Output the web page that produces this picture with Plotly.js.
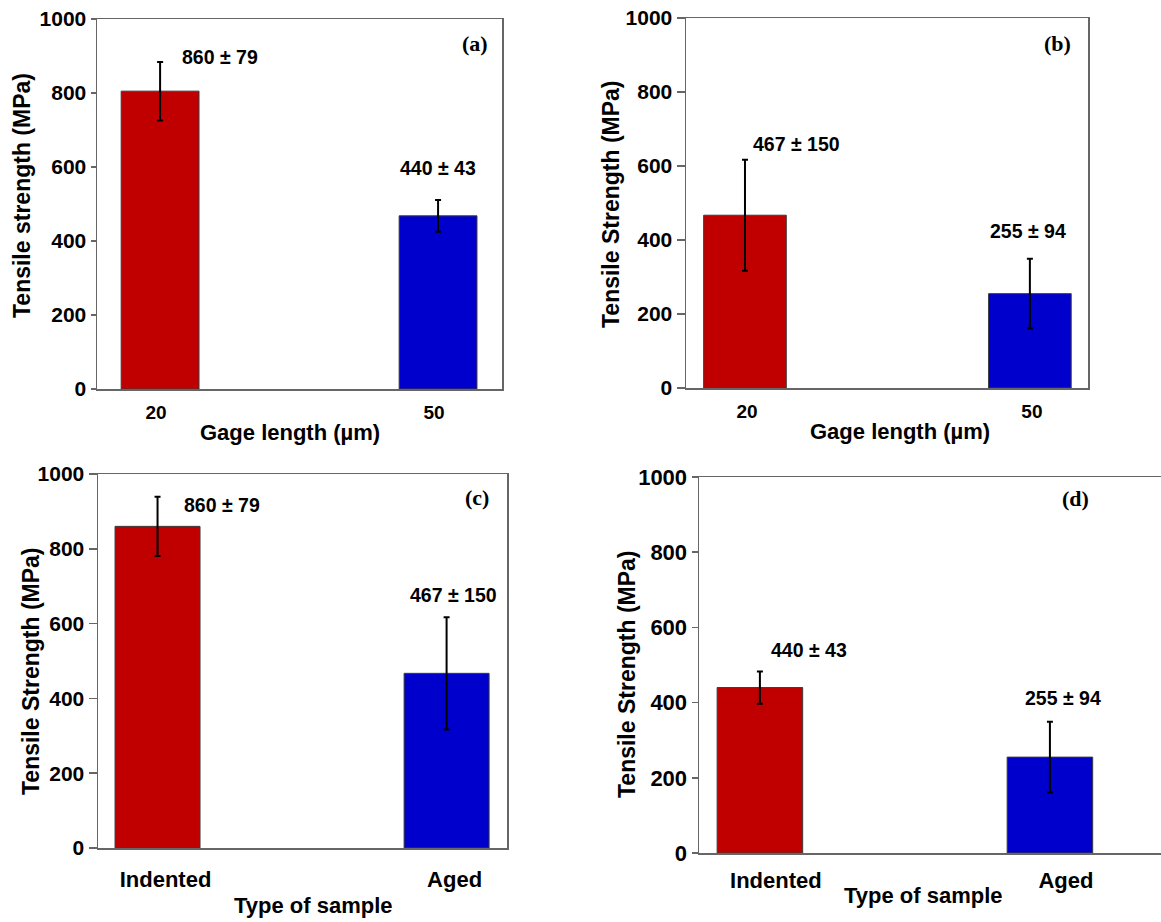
<!DOCTYPE html>
<html>
<head>
<meta charset="utf-8">
<script src="https://cdn.plot.ly/plotly-3.0.1.min.js"></script>
<style>html,body{margin:0;padding:0;background:#fff;}#chart{width:1161px;height:922px;}</style>
</head>
<body>
<div id="chart"></div>
<script>
// ---- data ----
const gageCategories = ['20', '50'];
const sampleCategories = ['Indented', 'Aged'];

const panelA_values = [805, 468];
const panelA_errors = [79, 43];
const panelA_labels = ['860 ± 79', '440 ± 43'];

const panelB_values = [467, 255];
const panelB_errors = [150, 94];
const panelB_labels = ['467 ± 150', '255 ± 94'];

const panelC_values = [860, 467];
const panelC_errors = [79, 150];
const panelC_labels = ['860 ± 79', '467 ± 150'];

const panelD_values = [440, 255];
const panelD_errors = [43, 94];
const panelD_labels = ['440 ± 43', '255 ± 94'];

const panelLetters = ['(a)', '(b)', '(c)', '(d)'];
const yTitles = ['Tensile strength (MPa)', 'Tensile Strength (MPa)', 'Tensile Strength (MPa)', 'Tensile Strength (MPa)'];
const xTitles = ['Gage length (µm)', 'Gage length (µm)', 'Type of sample', 'Type of sample'];
const yTickVals = [0, 200, 400, 600, 800, 1000];

// ---- styling ----
const barColors = ['#C00000', '#0000CC'];
const SANS = 'Liberation Sans, Arial, sans-serif';
const SERIF = 'Liberation Serif, Times New Roman, serif';

const panels = [
  {cats: gageCategories, vals: panelA_values, errs: panelA_errors, labels: panelA_labels,
   xd: [97/1161, 502/1161], yd: [1-389/922, 1-19/922], xr: [-0.227, 1.230], bw: 0.28,
   shift: -4, tickSize: 19, standoff: 6, yTickSize: 21,
   lblShift: [[60, 5], [0, 32]], letterPos: [0.933, 0.935],
   xt: [290, 432], yt: [22, 196], mirrorY: true, ticklen: 5},
  {cats: gageCategories, vals: panelB_values, errs: panelB_errors, labels: panelB_labels,
   xd: [686/1161, 1088/1161], yd: [1-388/922, 1-18/922], xr: [-0.207, 1.204], bw: 0.29,
   shift: 2, tickSize: 19, standoff: 6, yTickSize: 21,
   lblShift: [[52, 16], [-2, 28]], letterPos: [0.925, 0.932],
   xt: [900, 431], yt: [611, 204], mirrorY: true, ticklen: 8},
  {cats: sampleCategories, vals: panelC_values, errs: panelC_errors, labels: panelC_labels,
   xd: [98/1161, 507/1161], yd: [1-848/922, 1-474/922], xr: [-0.206, 1.209], bw: 0.294,
   shift: 8, tickSize: 22, standoff: 11, yTickSize: 21,
   lblShift: [[64, -8], [7, 22]], letterPos: [0.927, 0.936],
   xt: [313, 905], yt: [31, 671], mirrorY: true, ticklen: 8},
  {cats: sampleCategories, vals: panelD_values, errs: panelD_errors, labels: panelD_labels,
   xd: [699/1161, 1.0], yd: [1-853/922, 1-477/922], xr: [-0.210, 1.383], bw: 0.295,
   shift: 16, tickSize: 22, standoff: 7, yTickSize: 22,
   lblShift: [[49, 21], [13, 24]], letterPos: [0.814, 0.944],
   xt: [923, 895], yt: [627, 674], mirrorY: false, ticklen: 6}
];

const traces = [];
const annotations = [];
const layout = {
  width: 1161, height: 922,
  margin: {l: 0, r: 0, t: 0, b: 0},
  paper_bgcolor: '#ffffff', plot_bgcolor: '#ffffff',
  showlegend: false,
  font: {family: SANS, color: '#000', weight: 'bold'}
};

panels.forEach((p, i) => {
  const n = i === 0 ? '' : String(i + 1);
  const xa = 'x' + n, ya = 'y' + n;
  traces.push({
    type: 'bar', x: p.cats, y: p.vals, xaxis: xa, yaxis: ya, width: p.bw,
    marker: {color: barColors, line: {color: '#3a3a3a', width: 1}},
    error_y: {type: 'data', array: p.errs, visible: true, color: '#000', thickness: 2, width: 3},
    hoverinfo: 'skip'
  });
  layout['xaxis' + n] = {
    domain: p.xd, anchor: ya, type: 'category', range: p.xr,
    showline: true, linecolor: '#666', linewidth: 1.5, mirror: true,
    ticks: '', showgrid: false, zeroline: false,
    tickfont: {family: SANS, size: p.tickSize, color: '#000', weight: 'bold'},
    ticklabelshift: p.shift, ticklabelstandoff: p.standoff, fixedrange: true
  };
  layout['yaxis' + n] = {
    domain: p.yd, anchor: xa, range: [0, 1000], tickvals: yTickVals,
    showline: true, linecolor: '#666', linewidth: 1.5, mirror: p.mirrorY,
    ticks: 'outside', ticklen: p.ticklen, tickcolor: '#666', tickwidth: 1.5,
    showgrid: false, zeroline: false,
    tickfont: {family: SANS, size: p.yTickSize, color: '#000', weight: 'bold'},
    ticklabelstandoff: 0, fixedrange: true
  };
  // value labels, tied to bar index + error top
  p.cats.forEach((c, k) => {
    annotations.push({
      xref: xa, yref: ya, x: k, y: p.vals[k] + p.errs[k],
      text: p.labels[k], showarrow: false,
      xanchor: 'center', yanchor: 'middle',
      xshift: p.lblShift[k][0], yshift: p.lblShift[k][1],
      font: {family: SANS, size: 19.5, color: '#000', weight: 'bold'}
    });
  });
  // panel letter
  annotations.push({
    xref: xa + ' domain', yref: ya + ' domain', x: p.letterPos[0], y: p.letterPos[1],
    text: panelLetters[i], showarrow: false, xanchor: 'center', yanchor: 'middle',
    font: {family: SERIF, size: 22, color: '#000', weight: 'bold'}
  });
  // axis titles
  annotations.push({
    xref: 'paper', yref: 'paper', x: p.xt[0] / 1161, y: 1 - p.xt[1] / 922,
    text: xTitles[i], showarrow: false, xanchor: 'center', yanchor: 'middle',
    font: {family: SANS, size: 22, color: '#000', weight: 'bold'}
  });
  annotations.push({
    xref: 'paper', yref: 'paper', x: p.yt[0] / 1161, y: 1 - p.yt[1] / 922,
    text: yTitles[i], showarrow: false, textangle: -90, xanchor: 'center', yanchor: 'middle',
    font: {family: SANS, size: 23, color: '#000', weight: 'bold'}
  });
});
layout.annotations = annotations;

Plotly.newPlot('chart', traces, layout, {staticPlot: true, displayModeBar: false});
</script>
</body>
</html>
